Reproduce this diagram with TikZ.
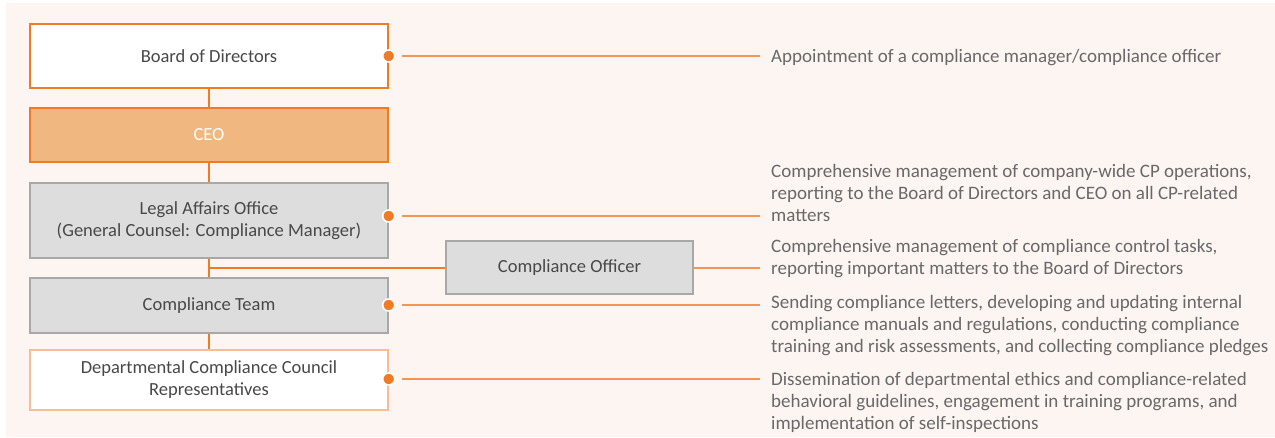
\documentclass[tikz,border=0pt]{standalone}
\usepackage{tikz}
\usetikzlibrary{positioning}
\usepackage{fontspec}
\setmainfont{Carlito}
\usepackage{xcolor}
\definecolor{bgpink}{RGB}{253,245,242}
\definecolor{cporange}{RGB}{238,124,38}
\definecolor{lineorange}{RGB}{241,150,85}
\definecolor{ceofill}{RGB}{240,184,128}
\definecolor{boxgray}{RGB}{220,221,220}
\definecolor{edgegray}{RGB}{168,168,168}
\definecolor{paleorange}{RGB}{246,190,152}
\definecolor{labelgray}{RGB}{72,72,72}
\definecolor{notegray}{RGB}{105,105,105}

\begin{document}
\begin{tikzpicture}[x=1pt,y=-1pt,
    unit/.style={rectangle,inner sep=0pt,minimum width=358pt,
      text=labelgray,align=center,line width=1.4pt,
      font=\fontsize{18.5}{22}\selectfont},
    orgline/.style={draw=cporange,line width=1.3pt},
    link/.style={draw=lineorange,line width=1.3pt,shorten <=7pt},
    dot/.style={circle,fill=cporange,draw=white,line width=1.5pt,
      inner sep=0pt,minimum size=12pt},
    note/.style={anchor=north west,inner sep=0pt,text=notegray,align=left,
      font=\fontsize{19}{22}\selectfont}]
  \useasboundingbox (0,0) rectangle (1275,437);
  \fill[bgpink] (6,3) rectangle (1275,437);

  \node[unit,fill=white,draw=cporange,minimum height=64pt] (board) at (209,56) {Board of Directors};
  \node[unit,fill=ceofill,draw=cporange,text=white,minimum height=54pt] (ceo) at (209,135) {CEO};
  \node[unit,fill=boxgray,draw=edgegray,minimum height=75pt] (legal) at (209,220.5)
    {Legal Affairs Office\\(General Counsel: Compliance Manager)};
  \node[unit,fill=boxgray,draw=edgegray,minimum height=55pt] (team) at (209,305.5) {Compliance Team};
  \node[unit,fill=white,draw=paleorange,minimum height=60pt] (dept) at (209,380)
    {Departmental Compliance Council\\Representatives};
  \node[unit,fill=boxgray,draw=edgegray,minimum width=247pt,minimum height=53pt] (officer)
    at (569.5,267.5) {Compliance Officer};

  \draw[orgline] (board) -- (ceo);
  \draw[orgline] (ceo) -- (legal);
  \draw[orgline] (legal) -- (team);
  \draw[orgline] (team) -- (dept);

  \coordinate (e1) at (760,56);
  \coordinate (e2) at (760,216);
  \coordinate (e3) at (760,268);
  \coordinate (e4) at (760,305);
  \coordinate (e5) at (760,379);

  \coordinate (split) at (209,268);
  \draw[orgline] (split) -- (split -| officer.west);

  \node[dot] (d1) at (board.east |- e1) {};
  \node[dot] (d2) at (legal.east |- e2) {};
  \node[dot] (d3) at (team.east |- e4) {};
  \node[dot] (d4) at (dept.east |- e5) {};

  \draw[link] (d1) -- (e1);
  \draw[link] (d2) -- (e2);
  \draw[link,shorten <=0pt] (officer.east |- e3) -- (e3);
  \draw[link] (d3) -- (e4);
  \draw[link] (d4) -- (e5);

  \node[note,anchor=base west] (n1) at (771,62) {Appointment of a compliance manager/compliance officer};
  \node[note] (n2) at (771,164)
    {Comprehensive management of company-wide CP operations,\\
     reporting to the Board of Directors and CEO on all CP-related\\
     matters};
  \node[note] (n3) at (771,239)
    {Comprehensive management of compliance control tasks,\\
     reporting important matters to the Board of Directors};
  \node[note] (n4) at (771,295)
    {Sending compliance letters, developing and updating internal\\
     compliance manuals and regulations, conducting compliance\\
     training and risk assessments, and collecting compliance pledges};
  \node[note] (n5) at (771,372)
    {Dissemination of departmental ethics and compliance-related\\
     behavioral guidelines, engagement in training programs, and\\
     implementation of self-inspections};
\end{tikzpicture}
\end{document}
